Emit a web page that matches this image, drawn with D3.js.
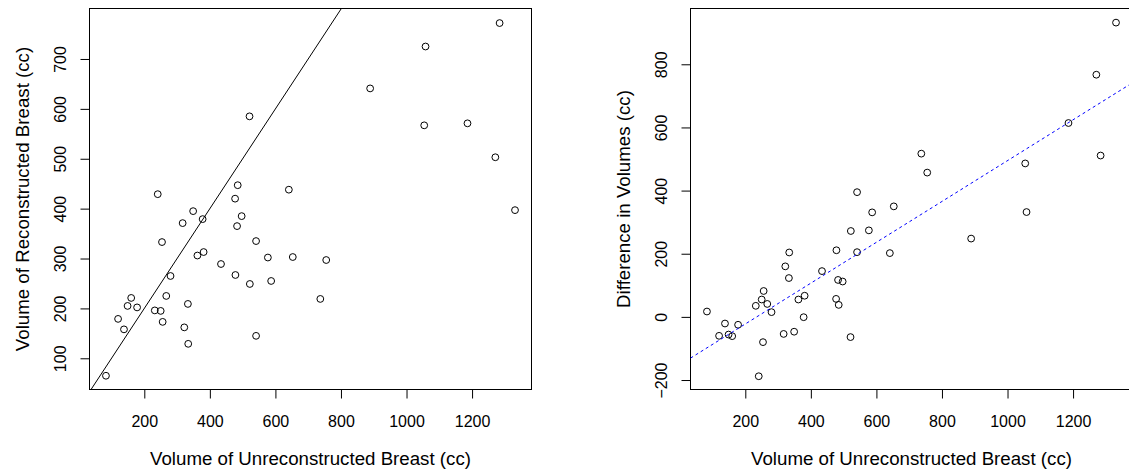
<!DOCTYPE html>
<html>
<head>
<meta charset="utf-8">
<script src="https://cdn.jsdelivr.net/npm/d3@7"></script>
<style>
  body { margin: 0; background: #fff; }
  text { font-family: "Liberation Sans", Arial, sans-serif; fill: #000; }
</style>
</head>
<body>
<svg id="chart" width="1129" height="470"></svg>
<script>
// Volumes (cc)
const unreconVol = [521, 241, 485, 477, 641, 349, 497, 317, 378, 483, 254, 541, 362, 381, 434, 577, 653, 755, 280, 478, 522, 587, 160, 267, 149, 178, 232, 250, 333, 737, 120, 138, 256, 322, 541, 334, 83, 1284, 1058, 889, 1054, 1186, 1271, 1331];
const reconVol = [585, 429, 447, 420, 438, 395, 385, 371, 379, 365, 333, 335, 306, 313, 289, 302, 303, 297, 265, 267, 249, 255, 221, 225, 205, 202, 196, 195, 209, 219, 179, 158, 173, 162, 145, 129, 65, 772, 725, 641, 567, 571, 503, 397];
const diffVol = [-64, -188, 38, 57, 202, -47, 112, -54, -1, 117, -80, 205, 55, 67, 145, 274, 350, 457, 15, 211, 272, 331, -61, 41, -56, -25, 35, 55, 123, 517, -60, -21, 82, 160, 395, 204, 17, 511, 332, 248, 486, 614, 767, 932];

const xTicks = [200, 400, 600, 800, 1000, 1200];
const leftYTicks = [100, 200, 300, 400, 500, 600, 700];
const rightYTicks = [-200, 0, 200, 400, 600, 800];

// fitted line on the right panel (intercept, slope)
const fitLine = [-151.8, 0.6467];

const xLabel = 'Volume of Unreconstructed Breast (cc)';
const leftYLabel = 'Volume of Reconstructed Breast (cc)';
const rightYLabel = 'Difference in Volumes (cc)';

const svg = d3.select('#chart');

const plotTop = 8.5, plotBottom = 389.5, panelW = 442, tickLen = 9;
const xDomain = [32.8, 1381.3];
const fmt = d3.format('d');

function panel(id, left, yDomain, yTicks, yVals, yLabel) {
    const right = left + panelW;
    const x = d3.scaleLinear().domain(xDomain).range([left, right]);
    const y = d3.scaleLinear().domain(yDomain).range([plotBottom, plotTop]);
    const g = svg.append('g').attr('class', id);

    g.append('clipPath').attr('id', 'clip-' + id)
        .append('rect')
        .attr('x', left).attr('y', plotTop)
        .attr('width', right - left).attr('height', plotBottom - plotTop);

    // x axis
    g.append('g')
        .attr('transform', `translate(0, ${plotBottom})`)
        .call(d3.axisBottom(x).tickValues(xTicks).tickFormat(fmt)
            .tickSize(tickLen).tickSizeOuter(0).tickPadding(17))
        .call(a => a.select('.domain').remove())
        .call(a => a.selectAll('line').attr('stroke', '#000'))
        .call(a => a.selectAll('text').style('font-size', '16px').attr('fill', '#000'));

    // y axis, labels turned like R does
    g.append('g')
        .attr('transform', `translate(${left}, 0)`)
        .call(d3.axisLeft(y).tickValues(yTicks).tickFormat(fmt)
            .tickSize(tickLen).tickSizeOuter(0))
        .call(a => a.select('.domain').remove())
        .call(a => a.selectAll('line').attr('stroke', '#000'))
        .call(a => a.selectAll('text')
            .attr('x', 0).attr('y', -24).attr('dy', null)
            .attr('transform', 'rotate(-90)')
            .attr('text-anchor', 'middle')
            .attr('fill', '#000')
            .style('font-size', '16px'));

    // frame
    g.append('rect')
        .attr('x', left).attr('y', plotTop)
        .attr('width', right - left).attr('height', plotBottom - plotTop)
        .attr('fill', 'none').attr('stroke', '#000').attr('stroke-width', 1);

    // titles
    g.append('text')
        .attr('x', (left + right) / 2).attr('y', 464.7)
        .attr('text-anchor', 'middle')
        .style('font-size', '18.7px')
        .text(xLabel);
    const cy = (plotTop + plotBottom) / 2;
    g.append('text')
        .attr('transform', `translate(${left - 61}, ${cy}) rotate(-90)`)
        .attr('text-anchor', 'middle')
        .style('font-size', '18.7px')
        .text(yLabel);

    const pts = unreconVol.map((v, i) => ({x: v, y: yVals[i]}));
    g.append('g').selectAll('circle')
        .data(pts)
        .enter()
        .append('circle')
        .attr('cx', d => x(d.x))
        .attr('cy', d => y(d.y))
        .attr('r', 3.4)
        .attr('fill', 'none')
        .attr('stroke', '#000')
        .attr('stroke-width', 1);

    return {g, x, y};
}

const p1 = panel('left', 89.5, [37.45, 801.2], leftYTicks, reconVol, leftYLabel);
const p2 = panel('right', 690.5, [-230, 976.7], rightYTicks, diffVol, rightYLabel);

// identity line on left panel
p1.g.append('line')
    .attr('clip-path', 'url(#clip-left)')
    .attr('x1', p1.x(xDomain[0])).attr('y1', p1.y(xDomain[0]))
    .attr('x2', p1.x(xDomain[1])).attr('y2', p1.y(xDomain[1]))
    .attr('stroke', '#000').attr('stroke-width', 1);

// fitted line on right panel
p2.g.append('line')
    .attr('clip-path', 'url(#clip-right)')
    .attr('x1', p2.x(xDomain[0])).attr('y1', p2.y(fitLine[0] + fitLine[1] * xDomain[0]))
    .attr('x2', p2.x(xDomain[1])).attr('y2', p2.y(fitLine[0] + fitLine[1] * xDomain[1]))
    .attr('stroke', '#0000ff').attr('stroke-width', 1)
    .attr('stroke-dasharray', '3,3');
</script>
</body>
</html>
